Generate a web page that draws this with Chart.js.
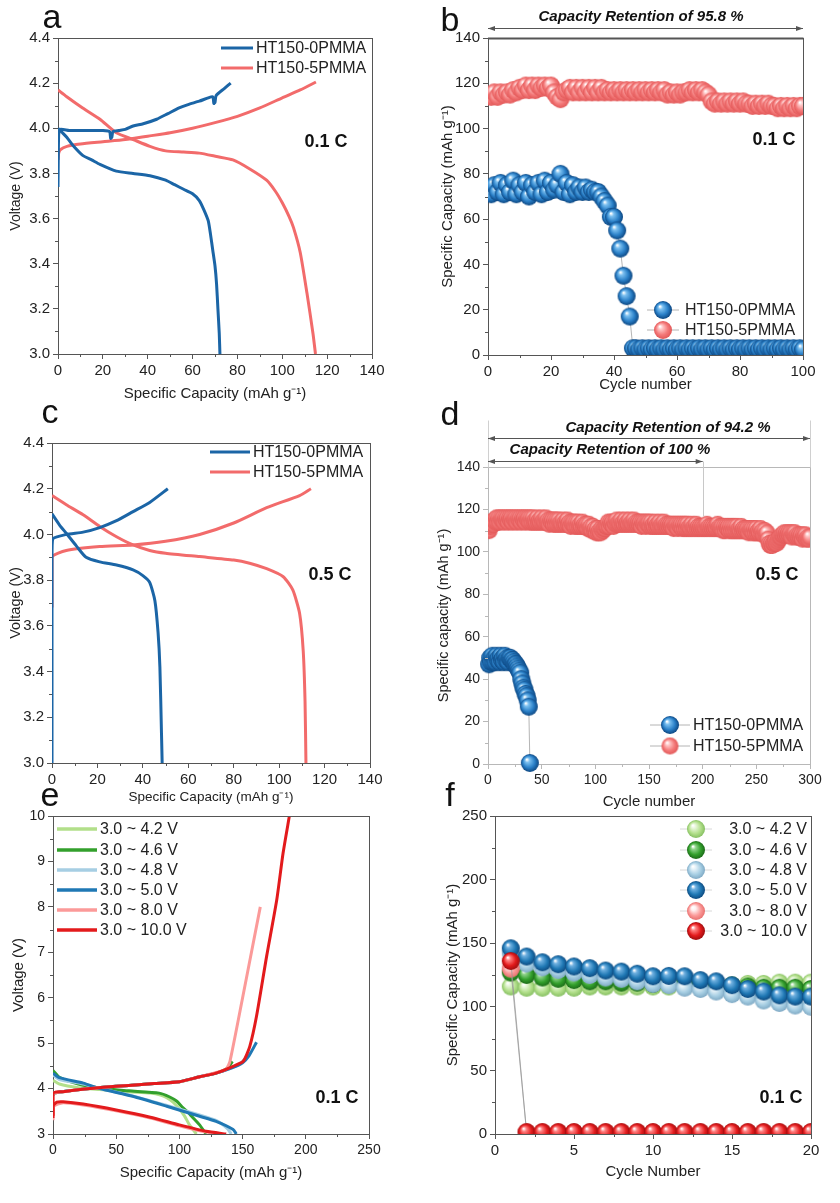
<!DOCTYPE html>
<html><head><meta charset="utf-8">
<script src="https://cdn.jsdelivr.net/npm/chart.js@4.4.1/dist/chart.umd.min.js"></script>
<style>
html,body{margin:0;padding:0;background:#fff;}
body{width:840px;height:1203px;position:relative;overflow:hidden;}
canvas{position:absolute;}
</style></head><body>
<canvas id="pa"></canvas><canvas id="pb"></canvas><canvas id="pc"></canvas>
<canvas id="pd"></canvas><canvas id="pe"></canvas><canvas id="pf"></canvas>
<script>
// ---------------- DATA ----------------
// Panel a (0.1 C voltage profiles)
const a0ChargeX = [0, 0.3, 1, 5, 10, 15, 20, 23, 23.5, 24, 24.5, 27, 30, 33.5, 38, 44, 49, 54, 58, 63, 67, 69, 69.5, 70, 70.5, 74, 77];
const a0ChargeY = [3.74, 3.97, 3.995, 3.99, 3.99, 3.99, 3.99, 3.985, 3.955, 3.96, 3.985, 3.99, 3.995, 4.01, 4.02, 4.04, 4.065, 4.09, 4.105, 4.12, 4.135, 4.14, 4.11, 4.115, 4.145, 4.175, 4.2];
const a0DisX = [0, 2, 3.9, 7, 11, 15, 18.7, 26, 33.5, 41, 48, 52, 56, 60, 63, 65, 67, 68, 69, 70, 70.7, 71.3, 71.9, 72.2];
const a0DisY = [4.0, 3.98, 3.96, 3.92, 3.88, 3.86, 3.84, 3.81, 3.80, 3.79, 3.77, 3.75, 3.73, 3.71, 3.68, 3.64, 3.59, 3.53, 3.46, 3.39, 3.31, 3.2, 3.09, 3.0];
const a5ChargeX = [0, 0.3, 1, 4, 10, 20, 30, 40, 50, 60, 70, 80, 90, 100, 108, 115];
const a5ChargeY = [3.86, 3.89, 3.905, 3.92, 3.93, 3.94, 3.95, 3.965, 3.98, 4.0, 4.025, 4.053, 4.09, 4.135, 4.17, 4.205];
const a5DisX = [0, 3.9, 11, 18.7, 26, 33.5, 41, 48, 56, 63, 70.7, 78, 85.5, 93, 97, 100, 103, 105, 108, 111, 113.7, 114.8];
const a5DisY = [4.17, 4.14, 4.09, 4.04, 3.98, 3.95, 3.92, 3.90, 3.895, 3.89, 3.875, 3.86, 3.82, 3.77, 3.72, 3.67, 3.61, 3.56, 3.45, 3.27, 3.09, 3.0];

// Panel b (0.1 C cycling, 100 cycles)
const b0Cap = [71,75,72,76,71,75,72,77,71,75, 72,76,70,75,72,76,71,77,72,76, 73,75,80,72,76,71,75,72,74,72,
  74,72,73,72,72,70,68,66,61,61, 55,47,35,26,17,3,3,2.5,3,2.5, 3,2.5,3,2.5,3,2.5,3,2.5,3,2.5,
  3,2.5,3,2.5,3,2.5,3,2.5,3,2.5, 3,2.5,3,2.5,3,2.5,3,2.5,3,2.5, 3,2.5,3,2.5,3,2.5,3,2.5,3,2.5, 3,2.5,3,2.5,3,2.5,3,2.5,3,2.5];
const b5Cap = [114,116,114,116,115,116,115,117,116,118, 117,119,117,119,117,119,118,119,118,119,
  116,114,113,116,117,118,116,118,116,118, 116,118,116,118,116,118,116,117,116,117,
  116,117,116,117,116,117,116,117,116,117, 116,117,116,117,116,117,115,116,115,116,
  115,116,116,117,116,117,116,117,116,115, 112,111,112,111,112,111,112,111,112,111,
  112,111,111,110,111,110,111,110,111,110, 110,109,110,109,110,109,110,109,110,110];

// Panel c (0.5 C voltage profiles)
const c0ChargeX = [0, 0, 0.3, 6.3, 13.7, 21, 28.4, 35.7, 43, 51];
const c0ChargeY = [3.0, 3.9, 3.98, 4.0, 4.01, 4.03, 4.06, 4.10, 4.14, 4.2];
const c0DisX = [0, 3.4, 6.3, 10.7, 15, 21, 28.4, 35.7, 40, 43, 45.3, 46.7, 47.5, 48.2, 48.5];
const c0DisY = [4.09, 4.04, 4.005, 3.95, 3.90, 3.88, 3.866, 3.845, 3.82, 3.79, 3.71, 3.57, 3.42, 3.13, 3.0];
const c5ChargeX = [0, 0, 6.3, 21, 35.7, 50, 65, 80, 94.5, 109, 114];
const c5ChargeY = [3.68, 3.90, 3.93, 3.947, 3.954, 3.97, 4.0, 4.05, 4.117, 4.17, 4.2];
const c5DisX = [0, 6.3, 13.7, 21, 28.4, 35.7, 43, 50, 65, 80, 87, 94.5, 101.8, 106, 109, 110.6, 111.4, 111.8];
const c5DisY = [4.17, 4.13, 4.086, 4.035, 3.99, 3.954, 3.93, 3.918, 3.903, 3.888, 3.874, 3.85, 3.815, 3.757, 3.655, 3.49, 3.27, 3.0];

// Panel d (0.5 C cycling, 300 cycles)
const d0Cap = [47,50,48,51,48,50,48,51,49,50, 48,51,49,50,48,51,49,50,48,50, 50,49,49,48,47,47,46,45,44,43, 40,38,36,35,33,32,30,27,0.5];
const d5Cap = [110,112,113,114,113,115,114,116,114,116, 114,116,115,116,114,116,115,116,114,116,
  115,116,114,116,115,116,114,116,115,116, 114,116,115,116,114,116,115,116,114,116,
  114,116,114,115,114,116,114,115,114,116, 114,115,114,116,114,115,113,115,114,115,
  113,115,113,115,113,115,113,114,113,115, 113,114,113,115,113,114,112,114,113,114,
  112,114,112,114,112,113,112,114,112,113, 112,113,111,113,111,112,110,112,110,111,
  109,111,109,110,109,111,110,111,111,112, 112,114,112,114,113,114,112,114,113,115,
  113,114,113,115,113,114,113,115,113,114, 113,115,113,114,113,115,113,114,113,114,
  113,114,112,114,113,114,112,114,113,114, 112,114,112,113,112,114,112,113,112,114,
  112,113,112,114,112,113,112,113,112,113, 112,113,111,113,112,113,111,113,112,113,
  111,113,111,113,111,113,111,112,111,113, 111,112,111,113,111,112,111,112,111,112,
  111,112,111,113,111,112,111,112,111,112, 111,112,111,113,111,112,111,112,110,112,
  110,112,111,112,110,112,110,112,110,112, 110,112,110,111,110,112,110,111,110,111,
  110,111,109,111,110,111,109,111,109,111, 109,110,109,111,109,110,108,110,108,109,
  106,104,103,104,103,104,104,105,104,105, 106,107,107,108,108,109,108,109,108,109,
  108,109,107,109,108,109,107,108,107,108, 107,108,106,108,107,108,106,107,106,107];

// Panel e (voltage windows, 0.1 C)
const eLabels = ['3.0 ~ 4.2 V','3.0 ~ 4.6 V','3.0 ~ 4.8 V','3.0 ~ 5.0 V','3.0 ~ 8.0 V','3.0 ~ 10.0 V'];
const e42cX = [0, 0.5, 10, 25, 40, 60, 80, 100, 110];
const e42cY = [3.85, 3.9, 3.94, 3.99, 4.03, 4.07, 4.11, 4.15, 4.21];
const e42dX = [0, 5, 20, 37, 60, 77, 85, 90, 95, 100, 104, 108, 113.5];
const e42dY = [4.18, 4.1, 4.02, 3.98, 3.93, 3.9, 3.86, 3.8, 3.7, 3.55, 3.4, 3.2, 3.0];
const e46cX = [0, 0.5, 10, 25, 40, 60, 80, 100, 116, 129, 138, 142];
const e46cY = [3.85, 3.9, 3.94, 3.99, 4.03, 4.07, 4.11, 4.15, 4.26, 4.34, 4.45, 4.6];
const e46dX = [0, 5, 20, 40, 60, 84, 92, 98, 102, 106, 110, 116, 121];
const e46dY = [4.4, 4.25, 4.1, 4.0, 3.95, 3.9, 3.82, 3.72, 3.6, 3.5, 3.38, 3.2, 3.0];
const e48cX = [0, 0.5, 10, 25, 40, 60, 80, 100, 116, 129, 142, 150, 156];
const e48cY = [3.85, 3.9, 3.94, 3.99, 4.03, 4.07, 4.11, 4.15, 4.26, 4.34, 4.46, 4.6, 4.8];
const e48dX = [0, 5, 24, 37, 63, 90, 116, 129, 138, 141];
const e48dY = [4.3, 4.2, 4.1, 4.0, 3.84, 3.63, 3.42, 3.3, 3.12, 3.0];
const e50cX = [0, 0.5, 10, 25, 40, 60, 80, 100, 116, 129, 142, 150, 155, 161];
const e50cY = [3.85, 3.9, 3.94, 3.99, 4.03, 4.07, 4.11, 4.15, 4.26, 4.34, 4.46, 4.57, 4.72, 5.02];
const e50dX = [0, 5, 24, 37, 63, 90, 116, 129, 142.5, 145];
const e50dY = [4.34, 4.24, 4.12, 4.0, 3.83, 3.61, 3.39, 3.28, 3.1, 3.0];
const e80cX = [0, 0, 8, 25, 40, 60, 80, 100, 116, 130, 137, 140, 150, 164];
const e80cY = [3.4, 3.88, 3.93, 3.99, 4.03, 4.07, 4.11, 4.15, 4.26, 4.36, 4.43, 4.6, 6.0, 8.0];
const e80dX = [0, 0, 8, 24, 50, 77, 100, 118, 132];
const e80dY = [3.3, 3.6, 3.69, 3.64, 3.51, 3.35, 3.18, 3.06, 3.0];
const e100cX = [0, 0, 8, 25, 40, 60, 80, 100, 116, 129, 142.5, 150.5, 155.7, 161, 169, 177, 182, 187];
const e100cY = [3.4, 3.9, 3.93, 3.99, 4.03, 4.07, 4.11, 4.15, 4.26, 4.34, 4.49, 4.6, 4.93, 5.59, 6.91, 8.15, 9.18, 10.0];
const e100dX = [0, 0, 3, 8, 24, 50, 77, 100, 121, 137];
const e100dY = [3.35, 3.62, 3.7, 3.71, 3.66, 3.53, 3.37, 3.2, 3.06, 3.0];

// Panel f (cycling in voltage windows, 20 cycles)
const f42 = [116,115,115,115,115,116,116,116,116,116,116,117,117,117,117,118,118,119,119,119];
const f46 = [127,125,123,122,121,120,120,119,119,118,118,117,117,117,116,116,115,115,115,114];
const f48 = [142,134,131,129,127,125,123,122,120,118,117,115,114,112,110,108,105,103,101,100];
const f50 = [146,139.5,135,133.5,131.7,130.4,128.5,127.7,126,124,124.3,124,121,120,117,114,112,109,108,108];
const f80 = [130,1.5,1.5,1.5,1.5,1.5,1.5,1.5,1.5,1.5,1.5,1.5,1.5,1.5,1.5,1.5,1.5,1.5,1.5,1.5];
const f100 = [136,1.5,1.5,1.5,1.5,1.5,1.5,1.5,1.5,1.5,1.5,1.5,1.5,1.5,1.5,1.5,1.5,1.5,1.5,1.5];

// ---------------- HELPERS ----------------
const FONT = "'Liberation Sans', Arial, Helvetica, sans-serif";
Chart.defaults.font.family = FONT;
Chart.defaults.color = '#222';
Chart.defaults.animation = false;

const BLUE = '#1b65a6', RED = '#f26b6b';
const PAL = ['#b2df8a','#33a02c','#a6cee3','#1f78b4','#fb9a99','#e31a1c'];
const PAL_DARK = ['#86bf62','#1c6b18','#7fa9c4','#0d4a80','#e8716f','#9e0d0f'];
const PAL_LIGHT = ['#e6f6d8','#8fd38a','#e4f1f8','#6fb0e0','#fff0f0','#ff8080'];

function pts(xs, ys) { return xs.map((x, i) => ({x: x, y: ys[i]})); }
function cyc(vals) { return vals.map((v, i) => ({x: i + 1, y: v})); }

function sphere(body, rim, light, r) {
  const s = Math.ceil(2 * r + 2);
  const c = document.createElement('canvas');
  c.width = s; c.height = s;
  const g = c.getContext('2d');
  const cx = s / 2, cy = s / 2;
  const gr = g.createRadialGradient(cx - r * 0.35, cy - r * 0.4, r * 0.05, cx, cy, r);
  gr.addColorStop(0, '#ffffff');
  gr.addColorStop(0.22, light);
  gr.addColorStop(0.65, body);
  gr.addColorStop(1, rim);
  g.fillStyle = gr;
  g.beginPath(); g.arc(cx, cy, r, 0, Math.PI * 2); g.fill();
  return c;
}

const decor = {
  id: 'decor',
  afterDraw(chart, args, o) {
    const ctx = chart.ctx, a = chart.chartArea, ox = o.ox, oy = o.oy;
    const xs = chart.scales.x, ys = chart.scales.y;
    ctx.save();
    ctx.strokeStyle = o.frame; ctx.lineWidth = o.topWidth || 1;
    ctx.beginPath(); ctx.moveTo(a.left, a.top + 0.5); ctx.lineTo(a.right + 0.5, a.top + 0.5); ctx.stroke();
    ctx.lineWidth = 1;
    ctx.beginPath(); ctx.moveTo(a.right + 0.5, a.top); ctx.lineTo(a.right + 0.5, a.bottom); ctx.stroke();
    const xt = xs.ticks.map(t => t.value), yt = ys.ticks.map(t => t.value);
    ctx.beginPath();
    for (let i = 0; i < xt.length - 1; i++) {
      const px = Math.round(xs.getPixelForValue((xt[i] + xt[i + 1]) / 2)) + 0.5;
      ctx.moveTo(px, a.bottom); ctx.lineTo(px, a.bottom + 3);
    }
    for (let i = 0; i < yt.length - 1; i++) {
      const py = Math.round(ys.getPixelForValue((yt[i] + yt[i + 1]) / 2)) + 0.5;
      ctx.moveTo(a.left, py); ctx.lineTo(a.left - 3, py);
    }
    ctx.stroke();
    (o.lines || []).forEach(l => {
      ctx.strokeStyle = l.color; ctx.lineWidth = l.w || 1;
      ctx.beginPath();
      const x1 = l.xv1 !== undefined ? xs.getPixelForValue(l.xv1) : l.x1 - ox;
      const x2 = l.xv2 !== undefined ? xs.getPixelForValue(l.xv2) : l.x2 - ox;
      const y1 = l.yv1 !== undefined ? ys.getPixelForValue(l.yv1) : l.y1 - oy;
      const y2 = l.yv2 !== undefined ? ys.getPixelForValue(l.yv2) : l.y2 - oy;
      ctx.moveTo(Math.round(x1) + 0.5, Math.round(y1) + 0.5); ctx.lineTo(Math.round(x2) + 0.5, Math.round(y2) + 0.5);
      ctx.stroke();
    });
    (o.arrows || []).forEach(ar => {
      const x1 = xs.getPixelForValue(ar.v1), x2 = xs.getPixelForValue(ar.v2), y = ar.y - oy + 0.5;
      ctx.strokeStyle = ar.color; ctx.fillStyle = ar.color; ctx.lineWidth = 1;
      ctx.beginPath(); ctx.moveTo(x1, y); ctx.lineTo(x2, y); ctx.stroke();
      ctx.beginPath(); ctx.moveTo(x1, y); ctx.lineTo(x1 + 7, y - 2.5); ctx.lineTo(x1 + 7, y + 2.5); ctx.closePath(); ctx.fill();
      ctx.beginPath(); ctx.moveTo(x2, y); ctx.lineTo(x2 - 7, y - 2.5); ctx.lineTo(x2 - 7, y + 2.5); ctx.closePath(); ctx.fill();
    });
    (o.legend || []).forEach(it => {
      if (it.line) {
        ctx.strokeStyle = it.line; ctx.lineWidth = it.lw || 3;
        ctx.beginPath(); ctx.moveTo(it.x1 - ox, it.y - oy); ctx.lineTo(it.x2 - ox, it.y - oy); ctx.stroke();
      }
      if (it.img) {
        ctx.drawImage(it.img, it.cx - ox - it.img.width / 2, it.y - oy - it.img.height / 2);
      }
      ctx.font = it.font; ctx.fillStyle = '#222'; ctx.textBaseline = 'middle';
      ctx.textAlign = it.align || 'left';
      ctx.fillText(it.text, it.tx - ox, it.y - oy + 1);
    });
    (o.texts || []).forEach(t => {
      ctx.font = t.font; ctx.fillStyle = t.color || '#111';
      ctx.textAlign = t.align || 'center'; ctx.textBaseline = t.base || 'middle';
      ctx.fillText(t.text, t.x - ox, t.y - oy);
    });
    ctx.restore();
  }
};

function axis(min, max, step, opts) {
  return {
    type: 'linear', min: min, max: max,
    ticks: {stepSize: step, font: {size: opts.tsize || 15}, color: '#222', padding: 3,
      callback: opts.fmt || (v => v)},
    grid: {drawOnChartArea: false, drawTicks: true, tickLength: 5, color: opts.frame, tickColor: opts.frame},
    border: {display: true, color: opts.frame, width: 1},
    title: {display: true, text: opts.title, font: {size: opts.fsize || 15}, color: '#222', padding: {top: opts.tpad || 0, bottom: opts.tpad || 0}}
  };
}

function panel(id, rect, area, datasets, sx, sy, dec) {
  const cv = document.getElementById(id);
  cv.width = rect.w; cv.height = rect.h;
  cv.style.left = rect.x + 'px'; cv.style.top = rect.y + 'px';
  cv.style.width = rect.w + 'px'; cv.style.height = rect.h + 'px';
  const yW = area.l - rect.x, xH = rect.y + rect.h - area.b;
  sx.afterFit = s => { s.height = xH; };
  sy.afterFit = s => { s.width = yW; };
  dec.ox = rect.x; dec.oy = rect.y;
  return new Chart(cv, {
    type: 'scatter',
    data: {datasets: datasets},
    options: {
      responsive: false, devicePixelRatio: 1,
      layout: {padding: {left: 0, top: area.t - rect.y, right: rect.x + rect.w - area.r, bottom: 0}},
      scales: {x: sx, y: sy},
      plugins: {legend: {display: false}, tooltip: {enabled: false}, decor: dec},
      events: []
    },
    plugins: [decor]
  });
}

function lineDs(data, color, w, order) {
  return {data: data, showLine: true, borderColor: color, borderWidth: w, pointRadius: 0, tension: 0.2, order: order, fill: false};
}
function ballDs(data, img, r, order, clip) {
  const d = {data: data, showLine: true, borderColor: 'rgba(150,150,150,0.7)', borderWidth: 1,
    pointStyle: img, pointRadius: r, order: order};
  if (clip !== undefined) d.clip = clip;
  return d;
}

const FR = '#555';
const titleCap = 'Specific Capacity (mAh g\u207B\u00B9)';
const lblFont = '34px ' + FONT;
const rateFont = 'bold 18px ' + FONT;
const legFont = '16px ' + FONT;
const retFont = 'italic bold 15px ' + FONT;

// ---------------- PANEL A ----------------
{
  const sx = axis(0, 140, 20, {frame: FR, title: titleCap, tpad: 7});
  const sy = axis(3.0, 4.4, 0.2, {frame: FR, title: 'Voltage (V)', fsize: 14, tpad: 8, fmt: v => v.toFixed(1)});
  panel('pa', {x: 0, y: 0, w: 420, h: 410}, {l: 58, t: 38, r: 372, b: 354}, [
    lineDs(pts(a0ChargeX, a0ChargeY), BLUE, 3, 0),
    lineDs(pts(a0DisX, a0DisY), BLUE, 3, 1),
    lineDs(pts(a5ChargeX, a5ChargeY), RED, 3, 2),
    lineDs(pts(a5DisX, a5DisY), RED, 3, 3)
  ], sx, sy, {
    frame: FR,
    legend: [
      {line: BLUE, x1: 221, x2: 253, y: 48, text: 'HT150-0PMMA', tx: 256, font: legFont},
      {line: RED, x1: 221, x2: 253, y: 68, text: 'HT150-5PMMA', tx: 256, font: legFont}
    ],
    texts: [
      {text: 'a', x: 52, y: 28, font: lblFont, base: 'alphabetic'},
      {text: '0.1 C', x: 326, y: 142, font: rateFont}
    ]
  });
}

// ---------------- PANEL B ----------------
{
  const bBlue = sphere('#2a80c8', '#0c4681', '#7cc0f0', 9);
  const bRed = sphere('#f47a7a', '#e25858', '#ffc4c4', 9);
  const sx = axis(0, 100, 20, {frame: FR, title: 'Cycle number', tpad: 16});
  const sy = axis(0, 140, 20, {frame: FR, title: titleCap, tpad: 19});
  panel('pb', {x: 420, y: 0, w: 420, h: 410}, {l: 488, t: 38, r: 803, b: 355}, [
    ballDs(cyc(b0Cap), bBlue, 9, 0),
    ballDs(cyc(b5Cap), bRed, 9, 1)
  ], sx, sy, {
    frame: FR, topWidth: 2,
    arrows: [{v1: 0, v2: 100, y: 28, color: '#555'}],
    legend: [
      {line: 'rgba(150,150,150,0.7)', lw: 1, x1: 647, x2: 679, y: 310, img: bBlue, cx: 663, text: 'HT150-0PMMA', tx: 685, font: legFont},
      {line: 'rgba(150,150,150,0.7)', lw: 1, x1: 647, x2: 679, y: 330, img: bRed, cx: 663, text: 'HT150-5PMMA', tx: 685, font: legFont}
    ],
    texts: [
      {text: 'b', x: 450, y: 31, font: lblFont, base: 'alphabetic'},
      {text: 'Capacity Retention of 95.8 %', x: 641, y: 17, font: retFont},
      {text: '0.1 C', x: 774, y: 140, font: rateFont}
    ]
  });
}

// ---------------- PANEL C ----------------
{
  const sx = axis(0, 140, 20, {frame: FR, title: titleCap, fsize: 13.5, tpad: 5});
  const sy = axis(3.0, 4.4, 0.2, {frame: FR, title: 'Voltage (V)', fsize: 14.5, tpad: 7, fmt: v => v.toFixed(1)});
  panel('pc', {x: 0, y: 385, w: 420, h: 425}, {l: 52, t: 443, r: 370, b: 763}, [
    lineDs(pts(c0ChargeX, c0ChargeY), BLUE, 3, 0),
    lineDs(pts(c0DisX, c0DisY), BLUE, 3, 1),
    lineDs(pts(c5ChargeX, c5ChargeY), RED, 3, 2),
    lineDs(pts(c5DisX, c5DisY), RED, 3, 3)
  ], sx, sy, {
    frame: FR,
    legend: [
      {line: BLUE, x1: 210, x2: 250, y: 452, text: 'HT150-0PMMA', tx: 253, font: legFont},
      {line: RED, x1: 210, x2: 250, y: 472, text: 'HT150-5PMMA', tx: 253, font: legFont}
    ],
    texts: [
      {text: 'c', x: 50, y: 423, font: lblFont, base: 'alphabetic'},
      {text: '0.5 C', x: 330, y: 575, font: rateFont}
    ]
  });
}

// ---------------- PANEL D ----------------
{
  const dBlue = sphere('#2a80c8', '#0c4681', '#7cc0f0', 9);
  const dRed = sphere('#f47a7a', '#e25858', '#ffc4c4', 8.5);
  const FD = '#b8b8b8';
  const sx = axis(0, 300, 50, {frame: FD, title: 'Cycle number', tsize: 14, tpad: 4});
  const sy = axis(0, 140, 20, {frame: FD, title: 'Specific capacity (mAh g\u207B\u00B9)', tsize: 14, fsize: 14.5, tpad: 15});
  panel('pd', {x: 420, y: 385, w: 420, h: 430}, {l: 488, t: 467, r: 810, b: 764}, [
    ballDs(cyc(d0Cap), dBlue, 9, 0, false),
    ballDs(cyc(d5Cap), dRed, 8.5, 1)
  ], sx, sy, {
    frame: FD,
    lines: [
      {color: '#d0d0d0', x1: 488, x2: 488, y1: 420, y2: 467},
      {color: '#d0d0d0', x1: 810, x2: 810, y1: 420, y2: 467},
      {color: '#c8c8c8', xv1: 200, xv2: 200, y1: 461, yv2: 117}
    ],
    arrows: [
      {v1: 0, v2: 300, y: 438, color: '#555'},
      {v1: 0, v2: 200, y: 461, color: '#555'}
    ],
    legend: [
      {line: 'rgba(150,150,150,0.7)', lw: 1, x1: 650, x2: 690, y: 725, img: dBlue, cx: 670, text: 'HT150-0PMMA', tx: 693, font: legFont},
      {line: 'rgba(150,150,150,0.7)', lw: 1, x1: 650, x2: 690, y: 746, img: dRed, cx: 670, text: 'HT150-5PMMA', tx: 693, font: legFont}
    ],
    texts: [
      {text: 'd', x: 450, y: 425, font: lblFont, base: 'alphabetic'},
      {text: 'Capacity Retention of 94.2 %', x: 668, y: 428, font: retFont},
      {text: 'Capacity Retention of 100 %', x: 610, y: 450, font: retFont},
      {text: '0.5 C', x: 777, y: 575, font: rateFont}
    ]
  });
}

// ---------------- PANEL E ----------------
{
  const sx = axis(0, 250, 50, {frame: FR, title: titleCap, tsize: 14, tpad: 21});
  const sy = axis(3, 10, 1, {frame: FR, title: 'Voltage (V)', tsize: 14, tpad: 10});
  const ch = [[e42cX,e42cY],[e46cX,e46cY],[e48cX,e48cY],[e50cX,e50cY],[e80cX,e80cY],[e100cX,e100cY]];
  const di = [[e42dX,e42dY],[e46dX,e46dY],[e48dX,e48dY],[e50dX,e50dY],[e80dX,e80dY],[e100dX,e100dY]];
  const ds = [];
  for (let i = 0; i < 6; i++) {
    ds.push(lineDs(pts(ch[i][0], ch[i][1]), PAL[i], 3, 2 * (5 - i)));
    ds.push(lineDs(pts(di[i][0], di[i][1]), PAL[i], 3, 2 * (5 - i) + 1));
  }
  const rowsY = [829, 850, 870, 890, 910, 930];
  panel('pe', {x: 0, y: 775, w: 420, h: 428}, {l: 53, t: 816, r: 369, b: 1134}, ds, sx, sy, {
    frame: FR,
    legend: eLabels.map((t, i) => ({line: PAL[i], lw: 3.5, x1: 57, x2: 97, y: rowsY[i], text: t, tx: 100, font: legFont})),
    texts: [
      {text: 'e', x: 50, y: 806, font: lblFont, base: 'alphabetic'},
      {text: '0.1 C', x: 337, y: 1098, font: rateFont}
    ]
  });
}

// ---------------- PANEL F ----------------
{
  const imgs = PAL.map((c, i) => sphere(c, PAL_DARK[i], PAL_LIGHT[i], 9));
  const sx = axis(0, 20, 5, {frame: FR, title: 'Cycle Number', tpad: 22});
  const sy = axis(0, 250, 50, {frame: FR, title: titleCap, tpad: 24});
  const series = [f42, f46, f48, f50, f80, f100];
  const order = [5, 4, 3, 2, 1, 0];
  const ds = series.map((s, i) => ballDs(cyc(s), imgs[i], 9, order[i]));
  const rowsY = [829, 850, 870, 890, 911, 931];
  panel('pf', {x: 420, y: 775, w: 420, h: 428}, {l: 495, t: 816, r: 811, b: 1134}, ds, sx, sy, {
    frame: FR,
    legend: eLabels.map((t, i) => ({line: 'rgba(190,190,190,0.6)', lw: 1, x1: 680, x2: 712, y: rowsY[i], img: imgs[i], cx: 696, text: t, tx: 807, align: 'right', font: legFont})),
    texts: [
      {text: 'f', x: 450, y: 806, font: lblFont, base: 'alphabetic'},
      {text: '0.1 C', x: 781, y: 1098, font: rateFont}
    ]
  });
}
</script>
</body></html>
